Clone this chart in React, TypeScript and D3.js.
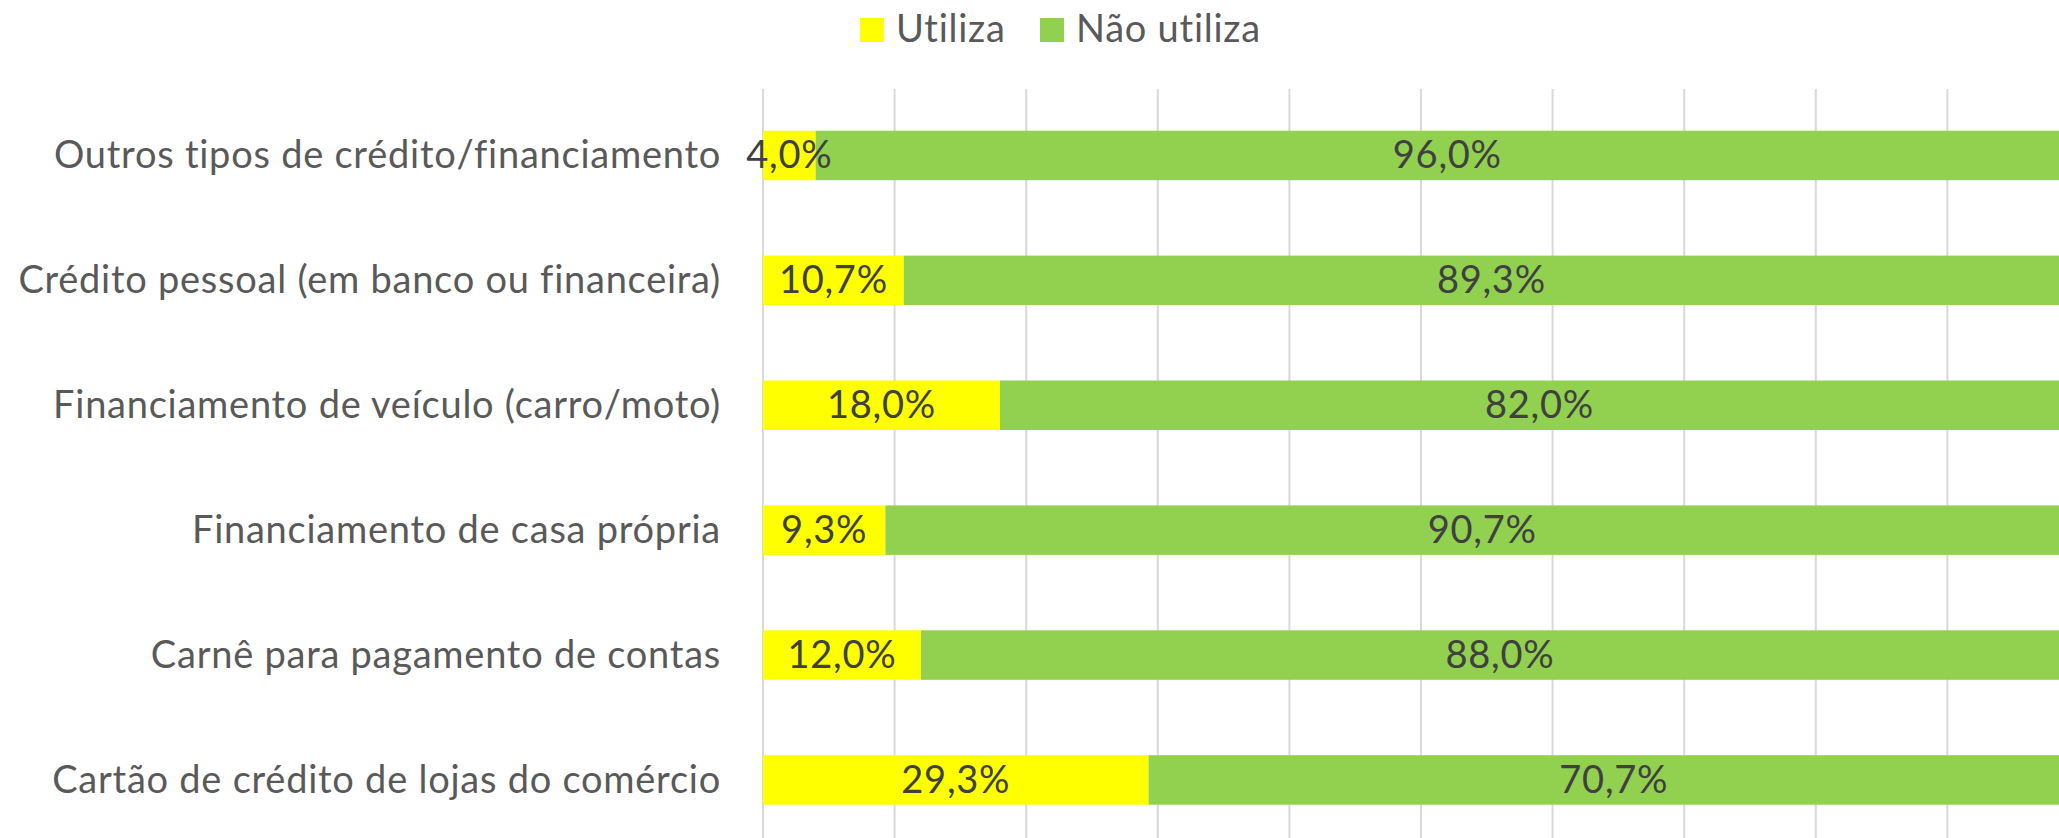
import React, { useEffect, useRef } from "react";
import * as d3 from "d3";

// categories, top to bottom
const categories = [
  "Outros tipos de crédito/financiamento",
  "Crédito pessoal (em banco ou financeira)",
  "Financiamento de veículo (carro/moto)",
  "Financiamento de casa própria",
  "Carnê para pagamento de contas",
  "Cartão de crédito de lojas do comércio",
];
const utiliza = [4.0, 10.7, 18.0, 9.3, 12.0, 29.3];
const naoUtiliza = [96.0, 89.3, 82.0, 90.7, 88.0, 70.7];
const seriesNames = ["Utiliza", "Não utiliza"];
const seriesColors = ["#FFFF00", "#92D050"];
const xTicks = [0, 10, 20, 30, 40, 50, 60, 70, 80, 90, 100];

const W = 2059;
const H = 838;
const FONT = "Lato, 'Open Sans', sans-serif";
const SPACING = "0.75px";

const App = () => {
  const svgRef = useRef(null);

  useEffect(() => {
    const svg = d3.select(svgRef.current);
    svg.selectAll("*").remove();

    const x = d3.scaleLinear().domain([0, 100]).range([763, 2079]);
    const y = d3
      .scaleBand()
      .domain(categories)
      .range([93, 93 + 6 * 124.9])
      .paddingInner(0.604)
      .paddingOuter(0.302);

    // gridlines
    svg
      .append("g")
      .selectAll("line")
      .data(xTicks)
      .enter()
      .append("line")
      .attr("x1", (d) => x(d))
      .attr("x2", (d) => x(d))
      .attr("y1", 89)
      .attr("y2", H + 10)
      .attr("stroke", "#D9D9D9")
      .attr("stroke-width", 2);

    // stacked rows
    const rows = categories.map((c, i) => ({
      cat: c,
      parts: [
        { key: 0, x0: 0, x1: utiliza[i], v: utiliza[i] },
        { key: 1, x0: utiliza[i], x1: utiliza[i] + naoUtiliza[i], v: naoUtiliza[i] },
      ],
    }));

    const row = svg
      .append("g")
      .selectAll("g")
      .data(rows)
      .enter()
      .append("g");

    row
      .selectAll("rect")
      .data((d) => d.parts.map((p) => ({ ...p, cat: d.cat })))
      .enter()
      .append("rect")
      .attr("x", (d) => x(d.x0))
      .attr("width", (d) => x(d.x1) - x(d.x0))
      .attr("y", (d) => y(d.cat))
      .attr("height", y.bandwidth())
      .attr("fill", (d) => seriesColors[d.key]);

    row
      .selectAll("text")
      .data((d) => d.parts.map((p) => ({ ...p, cat: d.cat })))
      .enter()
      .append("text")
      .attr("x", (d) => (x(d.x0) + x(d.x1)) / 2)
      .attr("y", (d) => y(d.cat) + y.bandwidth() / 2 + 13)
      .attr("text-anchor", "middle")
      .attr("font-family", FONT)
      .attr("font-size", 38)
      .attr("letter-spacing", SPACING)
      .attr("fill", "#404040")
      .text((d) => d.v.toFixed(1).replace(".", ",") + "%");

    // category labels
    svg
      .append("g")
      .selectAll("text")
      .data(categories)
      .enter()
      .append("text")
      .attr("x", 721)
      .attr("y", (d) => y(d) + y.bandwidth() / 2 + 13)
      .attr("text-anchor", "end")
      .attr("font-family", FONT)
      .attr("font-size", 38)
      .attr("letter-spacing", SPACING)
      .attr("fill", "#595959")
      .text((d) => d);

    // legend
    const legendX = [860, 1040];
    const leg = svg
      .append("g")
      .selectAll("g")
      .data(seriesNames)
      .enter()
      .append("g");
    leg
      .append("rect")
      .attr("x", (d, i) => legendX[i])
      .attr("y", 18)
      .attr("width", 24)
      .attr("height", 24)
      .attr("fill", (d, i) => seriesColors[i]);
    leg
      .append("text")
      .attr("x", (d, i) => legendX[i] + 36)
      .attr("y", 42)
      .attr("font-family", FONT)
      .attr("font-size", 38)
      .attr("letter-spacing", SPACING)
      .attr("fill", "#595959")
      .text((d) => d);
  }, []);

  return (
    <div id="svg-data">
      <svg
        ref={svgRef}
        width={W}
        height={H}
        style={{ position: "absolute", left: 0, top: 0, background: "#fff" }}
      ></svg>
    </div>
  );
};

export default App;
